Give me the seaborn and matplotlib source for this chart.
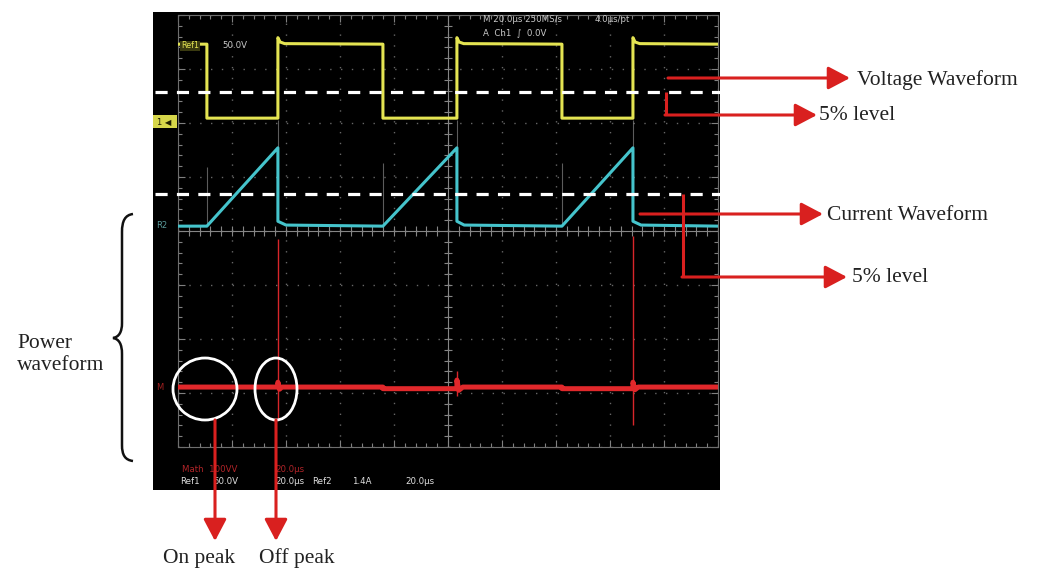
import numpy as np
import pandas as pd
import matplotlib
matplotlib.use("Agg")
import matplotlib.pyplot as plt
import seaborn as sns
from matplotlib.patches import Ellipse, Rectangle, PathPatch
from matplotlib.path import Path
from matplotlib.ticker import MultipleLocator

# ---------------- data (time in microseconds, amplitude in screen divisions) -------------
volt_t = [0, 10.7, 10.7, 37.0, 37.0, 37.8, 39.5, 75.9, 75.9, 103.3, 103.3, 104.1, 105.8,
          142.2, 142.2, 168.5, 168.5, 169.3, 171.0, 200]
volt_v = [3.46, 3.46, 2.09, 2.09, 3.58, 3.50, 3.47, 3.46, 2.09, 2.09, 3.58, 3.50, 3.47,
          3.46, 2.09, 2.09, 3.58, 3.50, 3.47, 3.46]

cur_t = [0, 10.7, 37.0, 37.0, 40.0, 75.9, 103.3, 103.3, 106.0, 142.2, 168.5, 168.5, 171.5, 200]
cur_v = [0.09, 0.09, 1.54, 0.18, 0.11, 0.09, 1.54, 0.18, 0.11, 0.09, 1.54, 0.18, 0.11, 0.09]

pow_t = [0, 37.0, 37.0, 37.6, 38.5, 75.9, 75.9, 103.3, 103.3, 104.0, 105.5, 142.2, 142.2,
         168.5, 168.5, 169.2, 170.5, 200]
pow_v = [-2.89, -2.89, -2.80, -2.93, -2.89, -2.89, -2.92, -2.92, -2.76, -2.95, -2.89, -2.89,
         -2.92, -2.92, -2.80, -2.94, -2.89, -2.89]

spike_t = [37.0, 103.3, 168.5]
spike_hi = [-0.15, -2.60, -0.10]
spike_lo = [-3.50, -3.05, -3.60]

edge_t = [10.7, 37.0, 75.9, 103.3, 142.2, 168.5]
edge_top = [1.18, 2.05, 1.26, 2.05, 1.26, 2.05]
edge_base = [0.09, 0.20, 0.09, 0.20, 0.09, 0.20]

level5_volt = 2.57
level5_cur = 0.69

# ---------------- figure ----------------
sns.set_theme(style="white")
plt.rcParams["font.family"] = ["DejaVu Sans"]

W, H = 1045, 571
fig = plt.figure(figsize=(W / 100, H / 100), dpi=100)
fig.patch.set_facecolor("white")


def px_axes(x0, y0, x1, y1):
    return fig.add_axes([x0 / W, 1 - y1 / H, (x1 - x0) / W, (y1 - y0) / H])


# black scope screen
bg = px_axes(153, 12, 720, 490)
bg.set_facecolor("black")
bg.set_xticks([]); bg.set_yticks([])
for s in bg.spines.values():
    s.set_visible(False)

# graticule axes
ax = px_axes(178, 15, 718, 447)
ax.set_facecolor("black")
ax.set_xlim(0, 200)
ax.set_ylim(-4, 4)
ax.xaxis.set_major_locator(MultipleLocator(20))
ax.xaxis.set_minor_locator(MultipleLocator(4))
ax.yaxis.set_major_locator(MultipleLocator(1))
ax.yaxis.set_minor_locator(MultipleLocator(0.2))
ax.tick_params(which="both", direction="in", colors="#808080", labelbottom=False,
               labelleft=False, top=True, right=True, bottom=True, left=True, width=0.8)
ax.tick_params(which="major", length=5)
ax.tick_params(which="minor", length=3)
for s in ax.spines.values():
    s.set_color("#6e6e6e")
    s.set_linewidth(0.8)
ax.grid(which="major", color="#666666", linestyle=(0, (1.0, 6.8)), linewidth=1.0)
ax.set_xlabel(""); ax.set_ylabel("")

# centre cross with ticks
ax.axvline(100, color="#858585", lw=0.8, zorder=1)
ax.axhline(0, color="#858585", lw=0.8, zorder=1)
ax.vlines(np.arange(0, 200.1, 4), -0.09, 0.09, color="#858585", lw=0.8, zorder=1)
ax.hlines(np.arange(-4, 4.01, 0.2), 98.4, 101.6, color="#858585", lw=0.8, zorder=1)

# faint persistence edges
ax.vlines(edge_t, edge_base, edge_top, color="#9a9a9a", lw=0.8, alpha=0.6, zorder=2)

# 5% level dashed lines
ax.hlines([level5_volt, level5_cur], -8.5, 200.7, color="white", lw=2.3,
          linestyles=[(0, (3.8, 2.9))], clip_on=False, zorder=6)

# waveforms
df_v = pd.DataFrame({"t": volt_t, "v": volt_v})
df_c = pd.DataFrame({"t": cur_t, "v": cur_v})
df_p = pd.DataFrame({"t": pow_t, "v": pow_v})
sns.lineplot(data=df_v, x="t", y="v", sort=False, estimator=None, ax=ax,
             color="#e4e452", lw=2.2, zorder=4)
sns.lineplot(data=df_c, x="t", y="v", sort=False, estimator=None, ax=ax,
             color="#45c4cc", lw=2.2, zorder=4)
ax.vlines(spike_t, spike_lo, spike_hi, color="#d8262a", lw=1.0, zorder=3)
sns.lineplot(data=df_p, x="t", y="v", sort=False, estimator=None, ax=ax,
             color="#e1282b", lw=3.6, zorder=4)
ax.set_xlim(0, 200)
ax.set_ylim(-4, 4)
ax.set_xlabel(""); ax.set_ylabel("")

# ---------------- annotation overlay (pixel coordinates) ----------------
ann = fig.add_axes([0, 0, 1, 1])
ann.set_xlim(0, W)
ann.set_ylim(H, 0)
ann.axis("off")
ann.patch.set_alpha(0)
ann.set_zorder(10)

scope_font = ["DejaVu Sans"]
gcol = "#c8c8c8"
ann.text(483, 20, "M 20.0µs 250MS/s", color=gcol, fontsize=6.2, va="center", family=scope_font)
ann.text(595, 20, "4.0µs/pt", color=gcol, fontsize=6.2, va="center", family=scope_font)
ann.text(483, 33, "A  Ch1  ∫  0.0V", color=gcol, fontsize=6.2, va="center", family=scope_font)
ann.text(181, 46, "Ref1", color="#e4e452", fontsize=5.8, va="center", family=scope_font,
         bbox=dict(boxstyle="square,pad=0.1", fc="#3a3a10", ec="none"), zorder=12)
ann.text(222, 46, "50.0V", color=gcol, fontsize=6.2, va="center", family=scope_font)
ann.add_patch(Rectangle((153, 115), 24, 13, fc="#d6d64a", ec="none", zorder=11))
ann.text(157, 121.5, "1 ◀", color="#202000", fontsize=6, va="center", family=scope_font, zorder=12)
ann.text(156, 226, "R2", color="#5a9a9a", fontsize=6, va="center", family=scope_font)
ann.text(156, 388, "M", color="#a02020", fontsize=6, va="center", family=scope_font)

ann.text(182, 470, "Math  100VV", color="#b02428", fontsize=6.2, va="center", family=scope_font)
ann.text(275, 470, "20.0µs", color="#b02428", fontsize=6.2, va="center", family=scope_font)
for xx, s in [(180, "Ref1"), (213, "50.0V"), (275, "20.0µs"), (312, "Ref2"), (352, "1.4A"),
              (405, "20.0µs")]:
    ann.text(xx, 482, s, color="#e0e0e0", fontsize=6.2, va="center", family=scope_font)

# circles
ann.add_patch(Ellipse((205, 389), 64, 62, fill=False, ec="white", lw=2.0, zorder=12))
ann.add_patch(Ellipse((276, 389), 42, 62, fill=False, ec="white", lw=2.0, zorder=12))

red = "#d9201f"
aprops = dict(arrowstyle="-|>,head_length=0.95,head_width=0.5", mutation_scale=14,
              color=red, lw=2.2, shrinkA=0, shrinkB=0)
serif = ["Liberation Serif"]
tsize = 15.5

# down arrows + labels
for xx in (215, 276):
    ann.annotate("", xy=(xx, 541), xytext=(xx, 420), arrowprops=aprops, zorder=13)
ann.text(163, 558, "On peak", fontsize=tsize, family=serif, va="center", ha="left", color="#222")
ann.text(259, 558, "Off peak", fontsize=tsize, family=serif, va="center", ha="left", color="#222")

# right side arrows
ann.annotate("", xy=(850, 78), xytext=(668, 78), arrowprops=aprops, zorder=13)
ann.text(857, 80, "Voltage Waveform", fontsize=tsize, family=serif, va="center", color="#222")

ann.plot([666, 666], [92, 115], color=red, lw=2.2, zorder=13, solid_capstyle="butt")
ann.annotate("", xy=(817, 115), xytext=(665, 115), arrowprops=aprops, zorder=13)
ann.text(819, 115, "5% level", fontsize=tsize, family=serif, va="center", color="#222")

ann.annotate("", xy=(823, 214), xytext=(640, 214), arrowprops=aprops, zorder=13)
ann.text(827, 215, "Current Waveform", fontsize=tsize, family=serif, va="center", color="#222")

ann.plot([683, 683], [194, 277], color=red, lw=2.2, zorder=13, solid_capstyle="butt")
ann.annotate("", xy=(847, 277), xytext=(682, 277), arrowprops=aprops, zorder=13)
ann.text(852, 277, "5% level", fontsize=tsize, family=serif, va="center", color="#222")

# curly brace
verts = [(133, 214), (125, 215), (122, 221), (122, 232),
         (122, 323),
         (122, 332), (119, 337), (113, 338),
         (119, 339), (122, 344), (122, 354),
         (122, 445),
         (122, 455), (125, 460), (133, 461)]
codes = [Path.MOVETO, Path.CURVE4, Path.CURVE4, Path.CURVE4,
         Path.LINETO,
         Path.CURVE4, Path.CURVE4, Path.CURVE4,
         Path.CURVE4, Path.CURVE4, Path.CURVE4,
         Path.LINETO,
         Path.CURVE4, Path.CURVE4, Path.CURVE4]
ann.add_patch(PathPatch(Path(verts, codes), fill=False, ec="#111", lw=1.8, zorder=13))
ann.text(17, 344, "Power", fontsize=tsize, family=serif, va="center", color="#222")
ann.text(17, 365, "waveform", fontsize=tsize, family=serif, va="center", color="#222")

fig.savefig("out.png", dpi=100, facecolor="white")
